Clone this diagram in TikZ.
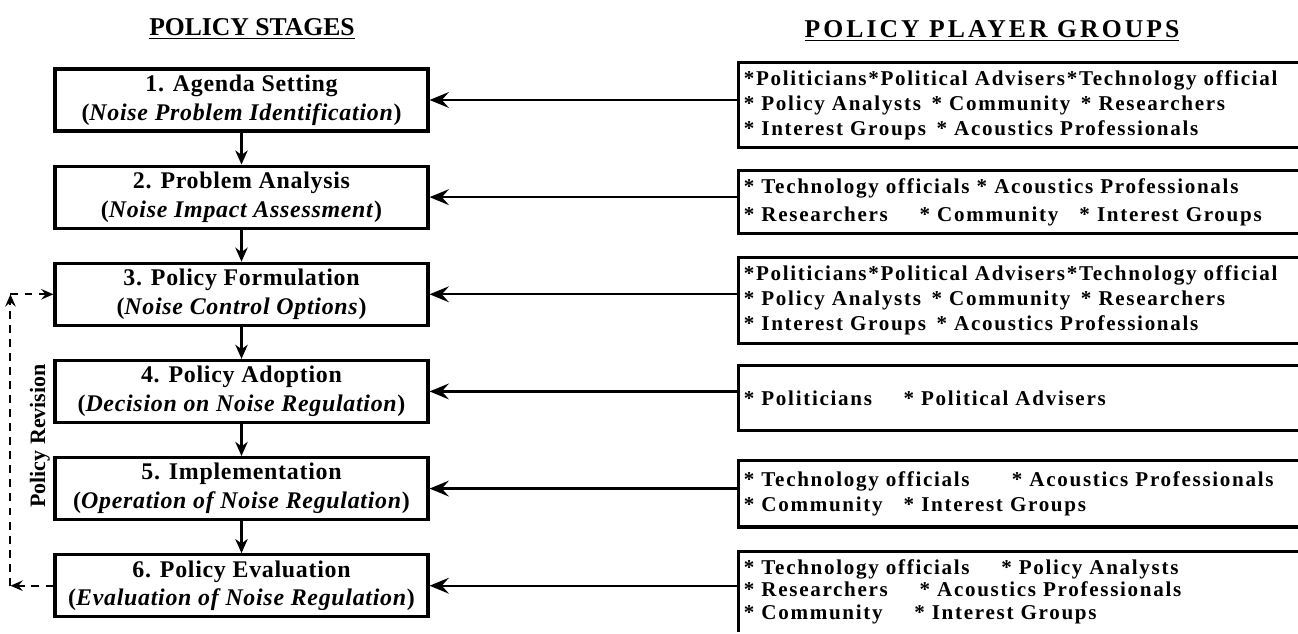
\documentclass[tikz,border=0pt]{standalone}
\usepackage{fontspec}
\setmainfont{Liberation Serif}
\newfontfamily\stagefont[LetterSpace=3]{Liberation Serif}
\newfontfamily\groupfont[LetterSpace=8]{Liberation Serif}
\newfontfamily\widefont[LetterSpace=12]{Liberation Serif}
\usepackage{tikz}
\usetikzlibrary{%
  positioning,
  arrows.meta,
}

\begin{document}
\begin{tikzpicture}[%
           x=0.02cm, y=0.02cm,
           node distance=0.64cm and 6.18cm,
           heading/.style={
             % bold capitals, the rule comes from \underline
             font=\fontsize{14.6}{17}\selectfont\bfseries,
             inner sep=0pt,
           },
           stage/.style={
             % The shape:
             rectangle,
             % The size:
             minimum width=7.46cm,
             minimum height=1.24cm,
             inner sep=0pt,
             align=center,
             % The border:
             draw=black,
             line width=1.8pt,
             font=\stagefont\fontsize{13.6}{16.4}\selectfont\bfseries,
           },
           players/.style={
             rectangle,
             text width=11cm,
             inner xsep=0.1cm,
             inner ysep=0pt,
             align=left,
             font=\groupfont\fontsize{12}{14.2}\selectfont\bfseries,
           },
           frame/.style={
             % open on the right side
             line width=1.8pt,
           },
           feed/.style={
             -{Stealth[length=11pt,width=9pt,inset=4pt]},
             line width=1.3pt,
           },
           next/.style={
             -{Stealth[length=8pt,width=7pt,inset=2.5pt]},
             line width=1.6pt,
           },
           revision/.style={
             -{Stealth[length=7pt,width=6pt,inset=2.5pt]},
             dash pattern=on 4.5pt off 3.5pt,
             line width=1.1pt,
           }]

         \useasboundingbox (0,0) rectangle (1298,633);

         \node[heading] (stagetitle) at (252,604) {\underline{POLICY STAGES}};
         \node[heading] (grouptitle) at (992,602) {\widefont\underline{POLICY PLAYER GROUPS}};

         \node[stage] (s1) at (241.5,533) {1. Agenda Setting\\(\textit{Noise Problem Identification})};
         \node[stage] (s2) [below=of s1] {2. Problem Analysis\\(\textit{Noise Impact Assessment})};
         \node[stage] (s3) [below=of s2] {3. Policy Formulation\\(\textit{Noise Control Options})};
         \node[stage] (s4) [below=of s3] {4. Policy Adoption\\(\textit{Decision on Noise Regulation})};
         \node[stage] (s5) [below=of s4] {5. Implementation\\(\textit{Operation of Noise Regulation})};
         \node[stage] (s6) [below=of s5] {6. Policy Evaluation\\(\textit{Evaluation of Noise Regulation})};

         \node[players, minimum height=1.68cm] (r1) [right=of s1, yshift=-0.1cm]
           {*Politicians*Political Advisers*Technology official\\{}%
            * Policy Analysts\enspace * Community\enspace * Researchers\\{}%
            * Interest Groups\enspace * Acoustics Professionals};
         \node[players, minimum height=1.24cm] (r2) [right=of s2, yshift=-0.1cm]
           {* Technology officials * Acoustics Professionals\\[1.5pt]%
            * Researchers\quad\enspace * Community\quad * Interest Groups};
         \node[players, minimum height=1.7cm] (r3) [right=of s3, yshift=-0.12cm]
           {*Politicians*Political Advisers*Technology official\\{}%
            * Policy Analysts\enspace * Community\enspace * Researchers\\{}%
            * Interest Groups\enspace * Acoustics Professionals};
         \node[players, minimum height=1.28cm] (r4) [right=of s4, yshift=-0.13cm]
           {* Politicians\quad\enspace * Political Advisers};
         \node[players, minimum height=1.32cm] (r5) [right=of s5, yshift=-0.1cm]
           {* Technology officials\qquad * Acoustics Professionals\\{}%
            * Community\quad * Interest Groups};
         \node[players, minimum height=1.6cm,
               font=\groupfont\fontsize{12}{13}\selectfont\bfseries] (r6) [right=of s6, yshift=-0.12cm]
           {* Technology officials\quad\enspace * Policy Analysts\\{}%
            * Researchers\quad\enspace * Acoustics Professionals\\{}%
            * Community\quad\enspace * Interest Groups};

         % player boxes run off the right edge
         \foreach \r in {r1,r2,r3,r4,r5}
           \draw[frame] (\r.north east) -- (\r.north west) -- (\r.south west) -- (\r.south east);
         \draw[frame] (r6.north east) -- (r6.north west) -- (r6.south west);

         \foreach \i in {1,...,6}
           \draw[feed] (r\i.west |- s\i.east) -- (s\i.east);
         \foreach \i [count=\j from 2] in {1,...,5}
           \draw[next] (s\i.south) -- (s\j.north);

         \coordinate[left=0.86cm of s6.west] (cornerlow);
         \coordinate (cornerhigh) at (cornerlow |- s3.west);
         \draw[revision] (s6.west) -- (cornerlow);
         \draw[revision] (cornerlow) -- (cornerhigh);
         \draw[revision] (cornerhigh) -- (s3.west);
         \node[rotate=90, font=\fontsize{12.5}{14}\selectfont\bfseries] (revlabel) at (40,197) {Policy Revision};
       \end{tikzpicture}
\end{document}
